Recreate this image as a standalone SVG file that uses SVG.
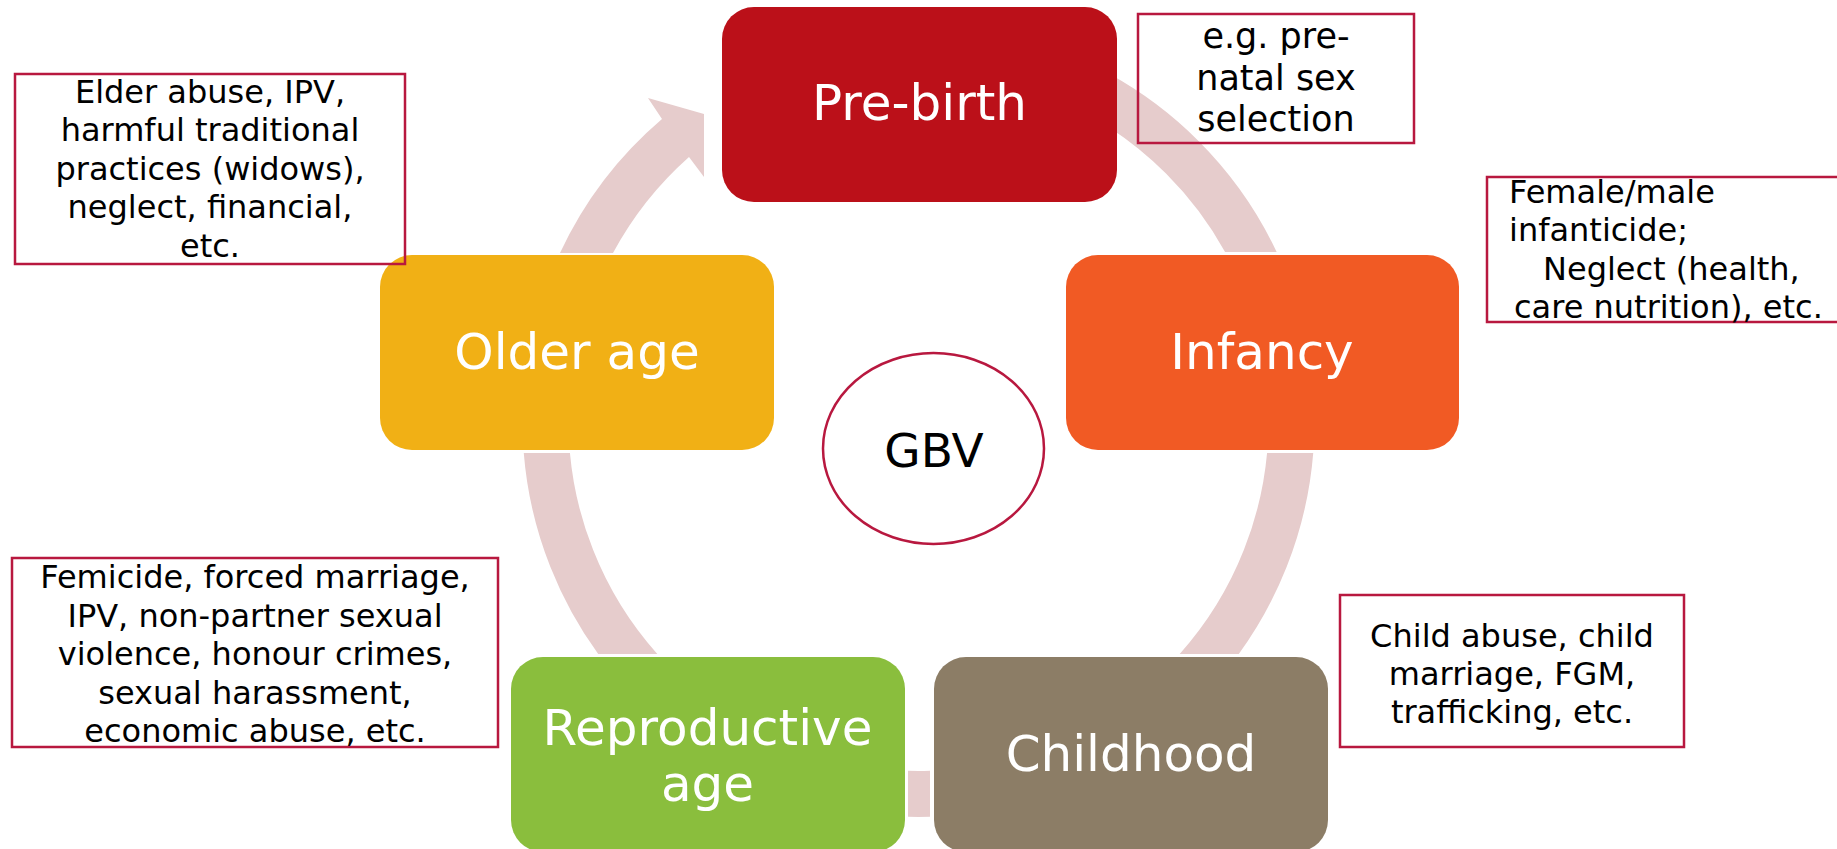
<svg xmlns="http://www.w3.org/2000/svg" width="1837" height="849" viewBox="0 0 1837 849">
<style>
  .lbl { font-family: "DejaVu Sans", Verdana, sans-serif; font-size: 50px; fill: #ffffff; text-anchor: middle; }
  .note { font-family: "DejaVu Sans", Verdana, sans-serif; font-size: 32px; fill: #000000; }
  .mid { text-anchor: middle; }
  .nbox { fill: none; stroke: #B8183F; stroke-width: 2.5; }
  .ring { fill: none; stroke: #E6CCCC; stroke-width: 46; }
  .arrow { fill: #E6CCCC; }
</style>
<defs>
  <clipPath id="ringClip">
    <rect x="1110" y="0" width="727" height="252"/>
    <rect x="0" y="453" width="1837" height="201"/>
    <rect x="908" y="700" width="22" height="149"/>
  </clipPath>
</defs>
<rect x="0" y="0" width="1837" height="849" fill="#ffffff"/>

<g id="connectors">
  <circle class="ring" cx="918.5" cy="421" r="373" clip-path="url(#ringClip)"/>
  <path class="arrow" d="M 560,253 A 396 396 0 0 1 662,119 L 648,98 L 704,114 L 704,177 L 689,157 A 350 350 0 0 0 613,253 Z"/>
</g>

<g id="node-prebirth">
  <rect x="722" y="7" width="395" height="195" rx="32" ry="32" fill="#BB1019"/>
  <text class="lbl" x="919.5" y="120">Pre-birth</text>
</g>
<g id="node-infancy">
  <rect x="1066" y="255" width="393" height="195" rx="32" ry="32" fill="#F15A24"/>
  <text class="lbl" x="1262" y="369">Infancy</text>
</g>
<g id="node-childhood">
  <rect x="934" y="657" width="394" height="195" rx="32" ry="32" fill="#8C7D66"/>
  <text class="lbl" x="1131" y="771">Childhood</text>
</g>
<g id="node-reproductive">
  <rect x="511" y="657" width="394" height="195" rx="32" ry="32" fill="#8ABE3D"/>
  <text class="lbl" x="707.5" y="745">Reproductive</text>
  <text class="lbl" x="707.5" y="801">age</text>
</g>
<g id="node-older">
  <rect x="380" y="255" width="394" height="195" rx="32" ry="32" fill="#F1B015"/>
  <text class="lbl" x="577" y="369">Older age</text>
</g>

<g id="node-gbv">
  <ellipse cx="933.5" cy="448.5" rx="110.5" ry="95.5" fill="#ffffff" stroke="#B8183F" stroke-width="2.5"/>
  <text x="934" y="467" font-family="'DejaVu Sans', Verdana, sans-serif" font-size="47" fill="#000000" text-anchor="middle">GBV</text>
</g>

<g id="note-prebirth">
  <rect class="nbox" x="1138" y="14" width="276" height="129"/>
  <text class="note mid" x="1276" y="48" font-size="35" style="font-size:35px">e.g. pre-</text>
  <text class="note mid" x="1276" y="90" style="font-size:35px">natal sex</text>
  <text class="note mid" x="1276" y="131" style="font-size:35px">selection</text>
</g>
<g id="note-infancy">
  <rect class="nbox" x="1487" y="177" width="360" height="145"/>
  <text class="note" x="1509" y="203">Female/male</text>
  <text class="note" x="1509" y="241">infanticide;</text>
  <text class="note" x="1543" y="280">Neglect (health,</text>
  <text class="note" x="1514" y="318">care nutrition), etc.</text>
</g>
<g id="note-childhood">
  <rect class="nbox" x="1340" y="595" width="344" height="152"/>
  <text class="note mid" x="1512" y="647">Child abuse, child</text>
  <text class="note mid" x="1512" y="685">marriage, FGM,</text>
  <text class="note mid" x="1512" y="723">trafficking, etc.</text>
</g>
<g id="note-reproductive">
  <rect class="nbox" x="12" y="558" width="486" height="189"/>
  <text class="note mid" x="255" y="588">Femicide, forced marriage,</text>
  <text class="note mid" x="255" y="627">IPV, non-partner sexual</text>
  <text class="note mid" x="255" y="665">violence, honour crimes,</text>
  <text class="note mid" x="255" y="704">sexual harassment,</text>
  <text class="note mid" x="255" y="742">economic abuse, etc.</text>
</g>
<g id="note-older">
  <rect class="nbox" x="15" y="74" width="390" height="190"/>
  <text class="note mid" x="210" y="103">Elder abuse, IPV,</text>
  <text class="note mid" x="210" y="141">harmful traditional</text>
  <text class="note mid" x="210" y="180">practices (widows),</text>
  <text class="note mid" x="210" y="218">neglect, financial,</text>
  <text class="note mid" x="210" y="257">etc.</text>
</g>
</svg>
